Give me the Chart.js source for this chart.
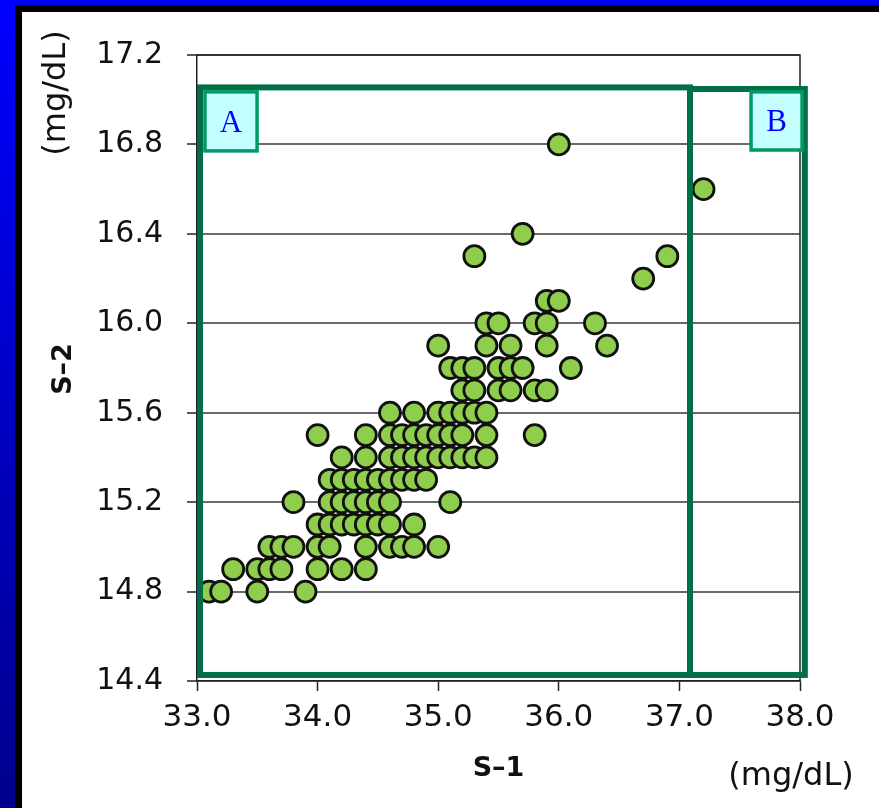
<!DOCTYPE html>
<html>
<head>
<meta charset="utf-8">
<script src="https://cdn.jsdelivr.net/npm/chart.js@4.4.1/dist/chart.umd.min.js"></script>
<style>
  html, body { margin: 0; padding: 0; }
  #frame {
    position: absolute; left: 0; top: 0; width: 879px; height: 808px;
    background: linear-gradient(#0000ff, #00008c);
  }
  #panel {
    position: absolute; left: 15px; top: 5px; right: 0; bottom: 0;
    border-left: 7px solid #000; border-top: 7px solid #000;
    background: #fff;
  }
  #plot { position: absolute; left: 0; top: 0; }
</style>
</head>
<body>
<div id="frame"><div id="panel"></div></div>
<canvas id="plot" width="879" height="808"></canvas>
<script>
// S-2 rows (mg/dL) and the S-1 values found on each row
const s2Rows = [16.8, 16.6, 16.4, 16.3, 16.2, 16.1, 16.0, 15.9, 15.8, 15.7, 15.6, 15.5, 15.4, 15.3, 15.2, 15.1, 15.0, 14.9, 14.8];
const s1Rows = [
  [36.0],
  [37.2],
  [35.7],
  [35.3, 36.9],
  [36.7],
  [35.9, 36.0],
  [35.4, 35.5, 35.8, 35.9, 36.3],
  [35.0, 35.4, 35.6, 35.9, 36.4],
  [35.1, 35.2, 35.3, 35.5, 35.6, 35.7, 36.1],
  [35.2, 35.3, 35.5, 35.6, 35.8, 35.9],
  [34.6, 34.8, 35.0, 35.1, 35.2, 35.3, 35.4],
  [34.0, 34.4, 34.6, 34.7, 34.8, 34.9, 35.0, 35.1, 35.2, 35.4, 35.8],
  [34.2, 34.4, 34.6, 34.7, 34.8, 34.9, 35.0, 35.1, 35.2, 35.3, 35.4],
  [34.1, 34.2, 34.3, 34.4, 34.5, 34.6, 34.7, 34.8, 34.9],
  [33.8, 34.1, 34.2, 34.3, 34.4, 34.5, 34.6, 35.1],
  [34.0, 34.1, 34.2, 34.3, 34.4, 34.5, 34.6, 34.8],
  [33.6, 33.7, 33.8, 34.0, 34.1, 34.4, 34.6, 34.7, 34.8, 35.0],
  [33.3, 33.5, 33.6, 33.7, 34.0, 34.2, 34.4],
  [33.1, 33.2, 33.5, 33.9]
];

const xTicks = [33.0, 34.0, 35.0, 36.0, 37.0, 38.0];
const yTicks = [14.4, 14.8, 15.2, 15.6, 16.0, 16.4, 16.8, 17.2];

// zone rectangles A and B in data units [x1, x2, y1, y2]
const zoneNames = ['A', 'B'];
const zoneRects = [[33.025, 37.088, 14.427, 17.055], [37.088, 38.04, 14.427, 17.048]];
const zoneTags = [[33.066, 33.498, 16.771, 17.035], [37.594, 38.017, 16.775, 17.035]];

let points = [];
s2Rows.forEach((y, i) => {
  s1Rows[i].forEach(x => points.push({x: x, y: y}));
});

const fontFamily = '"DejaVu Sans", Verdana, sans-serif';

const extras = {
  id: 'extras',
  afterDatasetsDraw(chart) {
    const {ctx, chartArea, scales} = chart;
    const xs = scales.x, ys = scales.y;
    ctx.save();
    // plot frame (top + right)
    ctx.strokeStyle = '#222';
    ctx.lineWidth = 1.5;
    ctx.beginPath();
    ctx.moveTo(chartArea.left, chartArea.top);
    ctx.lineTo(chartArea.right, chartArea.top);
    ctx.lineTo(chartArea.right, chartArea.bottom);
    ctx.stroke();

    // green zones
    ctx.strokeStyle = '#006f47';
    ctx.lineWidth = 6;
    zoneRects.forEach(r => {
      const x1 = xs.getPixelForValue(r[0]), x2 = xs.getPixelForValue(r[1]);
      const y1 = ys.getPixelForValue(r[2]), y2 = ys.getPixelForValue(r[3]);
      ctx.strokeRect(x1, y2, x2 - x1, y1 - y2);
    });

    // zone tags
    zoneTags.forEach((r, i) => {
      const x1 = xs.getPixelForValue(r[0]), x2 = xs.getPixelForValue(r[1]);
      const y1 = ys.getPixelForValue(r[2]), y2 = ys.getPixelForValue(r[3]);
      ctx.fillStyle = '#c4ffff';
      ctx.fillRect(x1, y2, x2 - x1, y1 - y2);
      ctx.strokeStyle = '#009a68';
      ctx.lineWidth = 3.5;
      ctx.strokeRect(x1, y2, x2 - x1, y1 - y2);
      ctx.fillStyle = '#0000ff';
      ctx.font = '31px "Liberation Serif", "Times New Roman", serif';
      ctx.textAlign = 'center';
      ctx.textBaseline = 'middle';
      ctx.fillText(zoneNames[i], (x1 + x2) / 2, (y1 + y2) / 2 + 2);
    });

    // axis titles
    ctx.fillStyle = '#111';
    ctx.textAlign = 'center';
    ctx.textBaseline = 'middle';
    ctx.font = 'bold 27px ' + fontFamily;
    ctx.fillText('S–1', (chartArea.left + chartArea.right) / 2, 769);
    ctx.font = '32px ' + fontFamily;
    ctx.fillText('(mg/dL)', 791, 777);

    ctx.save();
    ctx.translate(64, 369);
    ctx.rotate(-Math.PI / 2);
    ctx.font = 'bold 27px ' + fontFamily;
    ctx.fillText('S–2', 0, 0);
    ctx.restore();

    ctx.save();
    ctx.translate(57, 93);
    ctx.rotate(-Math.PI / 2);
    ctx.font = '32px ' + fontFamily;
    ctx.fillText('(mg/dL)', 0, 0);
    ctx.restore();

    ctx.restore();
  }
};

new Chart(document.getElementById('plot'), {
  type: 'scatter',
  data: {
    datasets: [{
      label: 'S-1 vs S-2',
      data: points,
      pointRadius: 10.5,
      pointHoverRadius: 10.5,
      backgroundColor: '#8fce4c',
      borderColor: '#111',
      borderWidth: 2.8
    }]
  },
  options: {
    responsive: false,
    animation: false,
    events: [],
    layout: { padding: { top: 55, right: 79, left: 0, bottom: 0 } },
    plugins: {
      legend: { display: false },
      tooltip: { enabled: false }
    },
    scales: {
      x: {
        type: 'linear',
        min: 33,
        max: 38,
        afterBuildTicks: (s) => { s.ticks = xTicks.map(v => ({value: v})); },
        afterFit: (s) => { s.height = 127; },
        ticks: {
          callback: (v) => Number(v).toFixed(1),
          color: '#111',
          font: { family: fontFamily, size: 31 },
          padding: 8,
          maxRotation: 0
        },
        grid: {
          drawOnChartArea: false,
          tickLength: 10,
          tickColor: '#222',
          tickWidth: 1.5
        },
        border: { color: '#222', width: 1.5 }
      },
      y: {
        type: 'linear',
        min: 14.4,
        max: 17.2,
        afterBuildTicks: (s) => { s.ticks = yTicks.map(v => ({value: v})); },
        afterFit: (s) => { s.width = 197; },
        ticks: {
          callback: (v) => Number(v).toFixed(1),
          color: '#111',
          font: { family: fontFamily, size: 30 },
          padding: 24
        },
        grid: {
          color: '#6a6a6a',
          lineWidth: 2,
          tickLength: 10,
          tickColor: '#222',
          tickWidth: 1.5
        },
        border: { color: '#222', width: 1.5 }
      }
    }
  },
  plugins: [extras]
});
</script>
</body>
</html>
